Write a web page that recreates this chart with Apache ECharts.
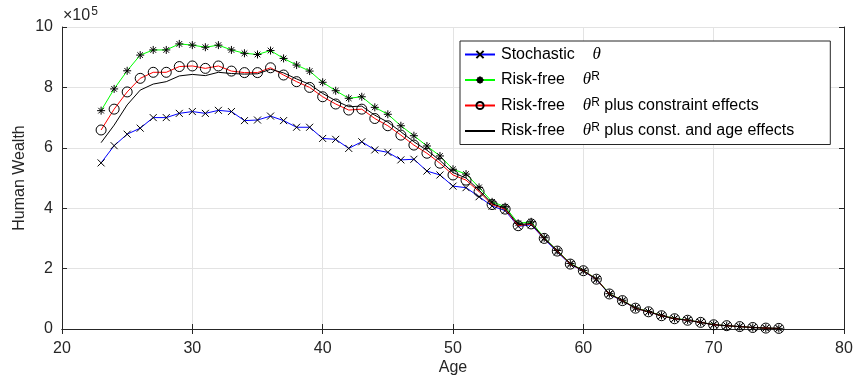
<!DOCTYPE html>
<html>
<head>
<meta charset="utf-8">
<script src="https://cdn.jsdelivr.net/npm/echarts@6/dist/echarts.min.js"></script>
<style>
html,body{margin:0;padding:0;background:#fff;}
#chart{width:854px;height:377px;}
</style>
</head>
<body>
<div id="chart"></div>
<script>
// Data (values in units of 10^5)
const ages = [23,24,25,26,27,28,29,30,31,32,33,34,35,36,37,38,39,40,41,42,43,44,45,46,47,48,49,50,51,52,53,54,55,56,57,58,59,60,61,62,63,64,65,66,67,68,69,70,71,72,73,74,75];
const stochastic = [5.50,6.07,6.45,6.65,7.00,7.00,7.14,7.20,7.14,7.24,
  7.20,6.90,6.92,7.05,6.90,6.68,6.68,6.31,6.28,5.98,
  6.20,5.93,5.85,5.60,5.62,5.23,5.10,4.73,4.68,4.38,
  4.07,3.92,3.40,3.45,2.98,2.55,2.14,1.92,1.64,1.15,
  0.93,0.69,0.57,0.44,0.34,0.29,0.22,0.14,0.11,0.08,
  0.05,0.03,0.02];
const riskFree = [7.23,7.95,8.55,9.07,9.24,9.24,9.44,9.40,9.33,9.40,
  9.24,9.13,9.09,9.22,8.96,8.74,8.54,8.17,7.89,7.64,
  7.69,7.34,7.11,6.73,6.40,6.06,5.73,5.29,5.13,4.69,
  4.21,4.05,3.50,3.55,3.02,2.60,2.17,1.94,1.66,1.17,
  0.95,0.70,0.58,0.45,0.35,0.30,0.22,0.15,0.11,0.08,
  0.05,0.03,0.02];
const riskFreeConstr = [6.59,7.28,7.85,8.30,8.50,8.50,8.69,8.71,8.63,8.71,
  8.54,8.49,8.49,8.65,8.41,8.19,8.00,7.69,7.45,7.25,
  7.28,6.97,6.73,6.42,6.09,5.82,5.49,5.10,4.93,4.55,
  4.12,3.97,3.42,3.48,3.00,2.58,2.15,1.93,1.65,1.16,
  0.94,0.69,0.57,0.44,0.34,0.29,0.22,0.14,0.11,0.08,
  0.05,0.03,0.02];
const riskFreeConstAge = [6.17,6.75,7.42,7.91,8.11,8.19,8.38,8.43,8.39,8.50,
  8.46,8.44,8.45,8.60,8.48,8.28,8.10,7.80,7.56,7.36,
  7.38,7.08,6.85,6.53,6.20,5.92,5.58,5.18,5.00,4.60,
  4.15,4.00,3.45,3.50,3.01,2.59,2.16,1.93,1.65,1.16,
  0.94,0.69,0.57,0.44,0.34,0.29,0.22,0.14,0.11,0.08,
  0.05,0.03,0.02];
const xTicks = [20,30,40,50,60,70,80];
const yTicks = [0,2,4,6,8,10];
const seriesNames = ['Stochastic θ','Risk-free θR','Risk-free θR plus constraint effects','Risk-free θR plus const. and age effects'];

const pairs = (arr) => ages.map((a, i) => [a, arr[i]]);

const FONT = 'Liberation Sans, Arial, Helvetica, sans-serif';
const AX = '#262626';
const GRID = '#e3e3e3';

const xMark = 'path://M0 0L10 10M10 0L0 10';
const starMark = 'path://M5 0L5 10M0 5L10 5M1.5 1.5L8.5 8.5M8.5 1.5L1.5 8.5';

const legendRich = {
  n: {fontFamily: FONT, fontSize: 16, color: '#000', lineHeight: 18},
  t: {fontFamily: 'Liberation Serif, DejaVu Serif, serif', fontStyle: 'italic', fontSize: 17, color: '#000', lineHeight: 18},
  s: {fontFamily: FONT, fontSize: 12, color: '#000', verticalAlign: 'top', lineHeight: 12}
};
const legendText = {
  'Stochastic θ': '{n|Stochastic    }{t|θ}',
  'Risk-free θR': '{n|Risk-free    }{t|θ}{s|R}',
  'Risk-free θR plus constraint effects': '{n|Risk-free    }{t|θ}{s|R}{n| plus constraint effects}',
  'Risk-free θR plus const. and age effects': '{n|Risk-free    }{t|θ}{s|R}{n| plus const. and age effects}'
};

const chart = echarts.init(document.getElementById('chart'), null, {renderer: 'canvas'});
const option = {
  backgroundColor: '#fff',
  animation: false,
  grid: {left: 62, right: 10, top: 27, bottom: 48, containLabel: false, outerBoundsMode: 'none'},
  xAxis: [{
    type: 'value', min: xTicks[0], max: xTicks[xTicks.length-1], interval: 10,
    name: 'Age', nameLocation: 'middle', nameGap: 31, nameMoveOverlap: false,
    nameTextStyle: {fontFamily: FONT, fontSize: 16, color: AX},
    axisLine: {show: true, lineStyle: {color: AX, width: 1}},
    axisTick: {show: true, inside: true, length: 5, lineStyle: {color: AX}},
    axisLabel: {fontFamily: FONT, fontSize: 16, color: AX, margin: 12},
    splitLine: {show: true, lineStyle: {color: GRID, width: 1}}
  }, {
    type: 'value', position: 'top', min: xTicks[0], max: xTicks[xTicks.length-1], interval: 10,
    axisLine: {show: true, lineStyle: {color: AX, width: 1}},
    axisTick: {show: true, inside: true, length: 5, lineStyle: {color: AX}},
    axisLabel: {show: false}, splitLine: {show: false}
  }],
  yAxis: [{
    type: 'value', min: yTicks[0], max: yTicks[yTicks.length-1], interval: 2,
    name: 'Human Wealth', nameLocation: 'middle', nameGap: 34, nameMoveOverlap: false,
    nameTextStyle: {fontFamily: FONT, fontSize: 16, color: AX},
    axisLine: {show: true, lineStyle: {color: AX, width: 1}},
    axisTick: {show: true, inside: true, length: 5, lineStyle: {color: AX}},
    axisLabel: {fontFamily: FONT, fontSize: 16, color: AX, margin: 9},
    splitLine: {show: true, lineStyle: {color: GRID, width: 1}}
  }, {
    type: 'value', position: 'right', min: yTicks[0], max: yTicks[yTicks.length-1], interval: 2,
    axisLine: {show: true, lineStyle: {color: AX, width: 1}},
    axisTick: {show: true, inside: true, length: 5, lineStyle: {color: AX}},
    axisLabel: {show: false}, splitLine: {show: false}
  }],
  legend: {
    orient: 'vertical', left: 460, top: 41,
    backgroundColor: '#fff', borderColor: AX, borderWidth: 1, borderRadius: 0,
    padding: [5, 36, 5, 4], itemGap: 8, itemWidth: 30, itemHeight: 9,
    data: seriesNames,
    formatter: (name) => legendText[name],
    textStyle: {rich: legendRich, padding: [0,0,0,1]}
  },
  graphic: [{
    type: 'text', left: 63, top: 6,
    style: {
      text: '{a|×10}{b|5}',
      rich: {
        a: {fontFamily: FONT, fontSize: 16, fill: AX, lineHeight: 20},
        b: {fontFamily: FONT, fontSize: 12, fill: AX, verticalAlign: 'top', lineHeight: 12, padding:[0,0,0,1]}
      }
    }
  }],
  series: [{
    name: seriesNames[0], type: 'line', data: pairs(stochastic),
    symbol: xMark, symbolSize: 7, showSymbol: true,
    lineStyle: {color: '#0000ff', width: 1},
    itemStyle: {color: 'transparent', borderColor: '#000', borderWidth: 1},
    z: 2
  }, {
    name: seriesNames[1], type: 'line', data: pairs(riskFree),
    symbol: starMark, symbolSize: 8, showSymbol: true,
    lineStyle: {color: '#00ff00', width: 1},
    itemStyle: {color: 'transparent', borderColor: '#000', borderWidth: 1},
    z: 3
  }, {
    name: seriesNames[2], type: 'line', data: pairs(riskFreeConstr),
    symbol: 'circle', symbolSize: 10, showSymbol: true,
    lineStyle: {color: '#ff0000', width: 1},
    itemStyle: {color: 'transparent', borderColor: '#000', borderWidth: 1},
    z: 4
  }, {
    name: seriesNames[3], type: 'line', data: pairs(riskFreeConstAge),
    symbol: 'none', showSymbol: false,
    lineStyle: {color: '#000000', width: 1},
    itemStyle: {color: '#000', opacity: 0},
    z: 5
  }]
};
chart.setOption(option);
</script>
</body>
</html>
